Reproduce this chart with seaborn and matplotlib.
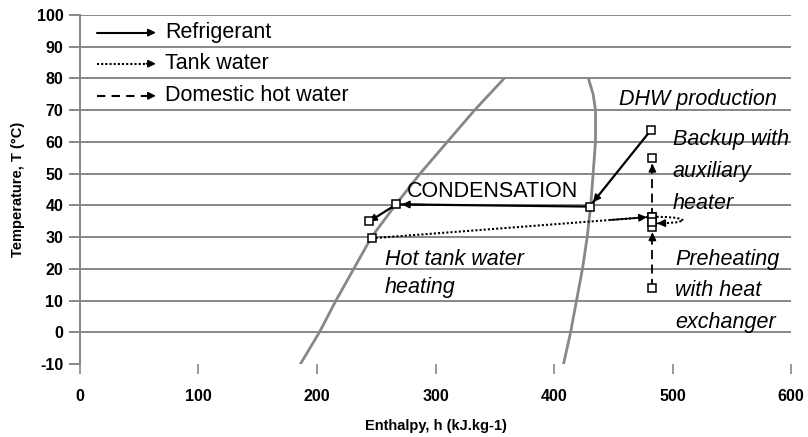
import matplotlib
matplotlib.use("Agg")
import matplotlib.pyplot as plt
import seaborn as sns

# saturation dome
liq_T = [-10, 0, 10, 20, 30, 40, 50, 60, 70, 80]
liq_h = [186, 202, 216, 231, 246, 266, 287, 310, 333, 358]
vap_T = [-10, 0, 10, 20, 30, 40, 50, 60, 70, 75, 80]
vap_h = [408, 414, 419, 424, 428, 431, 433, 435, 435, 433, 429]

# refrigerant cycle (discharge -> condensation -> subcooling)
ref_h = [482, 430, 267, 244]
ref_T = [63.8, 39.6, 40.3, 34.9]

# tank water heating + loop back
tank_h = [246, 483]
tank_T = [29.6, 36.4]
loop_h = [483, 495, 504, 509, 505, 495, 486]
loop_T = [36.4, 36.3, 36.0, 35.3, 34.7, 34.4, 34.3]

# domestic hot water: preheating then backup
dhw_pre_h = [483, 483]
dhw_pre_T = [14.0, 33.2]
dhw_back_h = [483, 483]
dhw_back_T = [36.4, 54.8]

legend_labels = ["Refrigerant", "Tank water", "Domestic hot water"]

sns.set_style("white")
plt.rcParams["font.family"] = ["Liberation Sans", "DejaVu Sans"]
plt.rcParams["axes.unicode_minus"] = False
plt.rcParams["text.color"] = "black"
plt.rcParams["axes.labelcolor"] = "black"
plt.rcParams["xtick.labelcolor"] = "black"
plt.rcParams["ytick.labelcolor"] = "black"

fig, ax = plt.subplots(figsize=(8.08, 4.37), dpi=100)
fig.subplots_adjust(left=0.099, right=0.979, top=0.966, bottom=0.167)

grey = "#878787"
for t in range(0, 101, 10):
    ax.axhline(t, color=grey, lw=1.4, zorder=0)

# dome
sns.lineplot(x=liq_h, y=liq_T, sort=False, estimator=None, color=grey, lw=2, ax=ax)
sns.lineplot(x=vap_h, y=vap_T, sort=False, estimator=None, color=grey, lw=2, ax=ax)

mk = dict(marker="s", markersize=6, markerfacecolor="white", markeredgecolor="black",
          markeredgewidth=1.1)


def arrow_head(x0, y0, x1, y1, shrink=4):
    ax.annotate("", xy=(x1, y1), xytext=(x0 + 0.85 * (x1 - x0), y0 + 0.85 * (y1 - y0)),
                arrowprops=dict(arrowstyle="-|>", color="black", lw=1.2,
                                mutation_scale=11, shrinkA=0, shrinkB=shrink),
                zorder=4)


# refrigerant
sns.lineplot(x=ref_h, y=ref_T, sort=False, estimator=None, color="black", lw=1.6, ax=ax)
for i in range(len(ref_h) - 1):
    arrow_head(ref_h[i], ref_T[i], ref_h[i + 1], ref_T[i + 1])
ax.plot(ref_h, ref_T, ls="none", zorder=5, **mk)

# tank water
sns.lineplot(x=tank_h, y=tank_T, sort=False, estimator=None, color="black", lw=1.5,
             linestyle=(0, (1, 1)), ax=ax)
sns.lineplot(x=loop_h, y=loop_T, sort=False, estimator=None, color="black", lw=1.5,
             linestyle=(0, (1, 1)), ax=ax)
arrow_head(tank_h[0], tank_T[0], tank_h[1], tank_T[1])
arrow_head(loop_h[-2], loop_T[-2], loop_h[-1], loop_T[-1], shrink=1)
ax.plot(tank_h, tank_T, ls="none", zorder=5, **mk)

# domestic hot water
for hh, tt in ((dhw_pre_h, dhw_pre_T), (dhw_back_h, dhw_back_T)):
    sns.lineplot(x=hh, y=tt, sort=False, estimator=None, color="black", lw=1.3,
                 linestyle=(0, (5, 3)), ax=ax)
    arrow_head(hh[0], tt[0], hh[1], tt[1])
    ax.plot(hh, tt, ls="none", zorder=5, **mk)
ax.plot([483], [34.7], ls="none", zorder=5, **mk)

# legend drawn by hand with arrows
leg_styles = ["-", (0, (1, 1)), (0, (4, 3))]
leg_T = [94.4, 84.6, 74.5]
for lab, ls, ty in zip(legend_labels, leg_styles, leg_T):
    ax.plot([14, 58], [ty, ty], color="black", lw=1.5, ls=ls)
    ax.annotate("", xy=(64, ty), xytext=(56, ty),
                arrowprops=dict(arrowstyle="-|>", color="black", lw=1.2,
                                mutation_scale=11, shrinkA=0, shrinkB=0))
    ax.text(72, ty, lab, fontsize=15.5, va="center", ha="left")

# annotations
fs = 15.5
ax.text(276, 41.2, "CONDENSATION", fontsize=fs, va="bottom", ha="left")
ax.text(588, 73.3, "DHW production", fontsize=fs, style="italic", va="center", ha="right")
ax.text(500, 60.7, "Backup with", fontsize=fs, style="italic", va="center", ha="left")
ax.text(500, 50.6, "auxiliary", fontsize=fs, style="italic", va="center", ha="left")
ax.text(500, 40.5, "heater", fontsize=fs, style="italic", va="center", ha="left")
ax.text(502, 22.8, "Preheating", fontsize=fs, style="italic", va="center", ha="left")
ax.text(502, 13.2, "with heat", fontsize=fs, style="italic", va="center", ha="left")
ax.text(502, 3.2, "exchanger", fontsize=fs, style="italic", va="center", ha="left")
ax.text(257, 22.8, "Hot tank water", fontsize=fs, style="italic", va="center", ha="left")
ax.text(257, 14.0, "heating", fontsize=fs, style="italic", va="center", ha="left")

ax.set_xlim(0, 600)
ax.set_ylim(-10, 100)
ax.set_xticks(range(0, 601, 100))
ax.set_yticks(range(-10, 101, 10))
for sp in ["top", "right", "bottom"]:
    ax.spines[sp].set_visible(False)
ax.spines["left"].set_color(grey)
ax.spines["left"].set_linewidth(1.4)
ax.tick_params(axis="y", length=8, width=1.4, color=grey, direction="out", pad=4,
               labelsize=11.5, left=True)
ax.tick_params(axis="x", length=7, width=1.2, color=grey, direction="out", pad=11,
               labelsize=11.5, bottom=True)
for lab in ax.get_xticklabels() + ax.get_yticklabels():
    lab.set_fontweight("bold")

ax.set_xlabel("Enthalpy, h (kJ.kg-1)", fontsize=10.5, fontweight="bold", labelpad=11)
ax.set_ylabel("Temperature, T (°C)", fontsize=10.5, fontweight="bold", labelpad=8)

fig.savefig("out.png", dpi=100)
